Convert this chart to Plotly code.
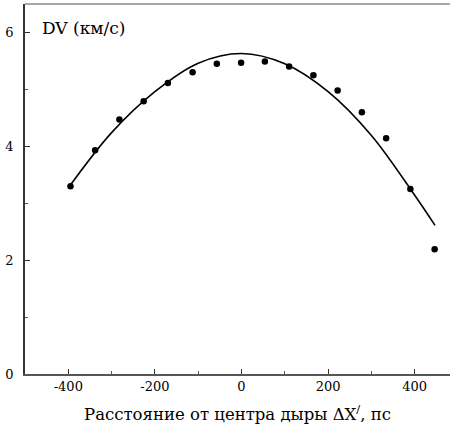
import plotly.graph_objects as go

# measured points
pts_x = [-395, -338, -282, -226, -170, -113, -57, -1, 54, 110, 166, 222, 278, 334, 390, 446]
pts_y = [3.30, 3.93, 4.47, 4.79, 5.11, 5.30, 5.45, 5.47, 5.49, 5.40, 5.25, 4.98, 4.60, 4.14, 3.25, 2.19]

# fitted curve
curve_x = [-395, -300, -200, -100, 0, 100, 200, 300, 400, 447]
curve_y = [3.32, 4.24, 4.96, 5.46, 5.63, 5.45, 4.96, 4.19, 3.14, 2.61]

x_ticks = [-400, -200, 0, 200, 400]
y_ticks = [0, 2, 4, 6]

FONT = "DejaVu Serif"

fig = go.Figure()
fig.add_trace(go.Scatter(x=curve_x, y=curve_y, mode="lines",
                         line=dict(color="black", width=1.6, shape="spline", smoothing=1.0),
                         showlegend=False, hoverinfo="skip"))
fig.add_trace(go.Scatter(x=pts_x, y=pts_y, mode="markers", marker=dict(color="black", size=6.5, symbol="circle"),
                         showlegend=False))

fig.update_layout(
    width=450, height=435,
    margin=dict(l=25, r=0, t=4, b=61),
    paper_bgcolor="white", plot_bgcolor="white",
    font=dict(family=FONT, color="black", size=13),
    xaxis=dict(range=[-500, 481.5], tickvals=x_ticks, ticktext=[str(v) for v in x_ticks],
               ticks="inside", ticklen=5, tickcolor="#333", showgrid=False, zeroline=False,
               showline=True, linecolor="#555", linewidth=1.5,
               minor=dict(tickvals=[-300, -100, 100, 300], ticks="inside", ticklen=3, tickcolor="#555"),
               title=dict(text="Расстояние от центра дыры ΔX<sup>/</sup>, пс", font=dict(size=16.5), standoff=15),
               tickfont=dict(size=13)),
    yaxis=dict(range=[0, 6.5], tickvals=y_ticks, ticktext=[str(v) for v in y_ticks],
               ticks="inside", ticklen=5, tickcolor="#333", showgrid=False, zeroline=False,
               showline=True, linecolor="#333", linewidth=1.5,
               minor=dict(tickvals=[1, 3, 5], ticks="inside", ticklen=3, tickcolor="#555"),
               tickfont=dict(size=13), ticklabelstandoff=7),
    shapes=[dict(type="line", xref="paper", yref="paper", x0=0, x1=1, y0=1, y1=1,
                 line=dict(color="#888", width=1.5))],
    annotations=[dict(text="DV (км/с)", xref="paper", yref="paper", x=0.035, y=0.935,
                      xanchor="left", yanchor="middle", showarrow=False, font=dict(size=17))],
)

fig.write_html("out.html")
